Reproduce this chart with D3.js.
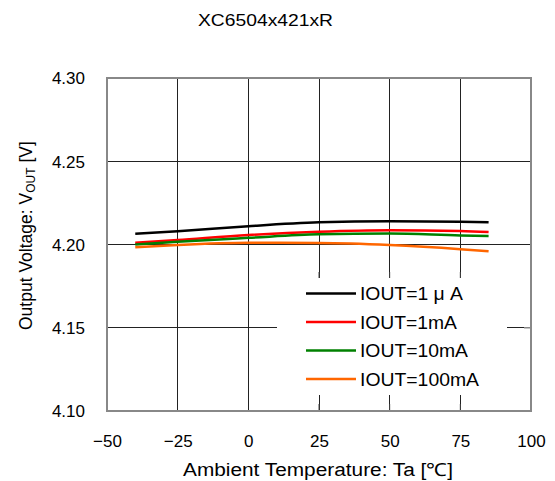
<!DOCTYPE html>
<html><head><meta charset="utf-8">
<script src="https://cdn.jsdelivr.net/npm/d3@7"></script>
<style>body{margin:0;background:#fff}svg{display:block}text{font-family:"Liberation Sans",Arial,sans-serif;fill:#000}</style>
</head><body>
<script>
const title = "XC6504x421xR";
const temps = [-40, -25, 0, 25, 50, 75, 85];
const seriesNames = ["IOUT=1 \u03bc A", "IOUT=1mA", "IOUT=10mA", "IOUT=100mA"];
const seriesColors = ["#000000", "#ff0000", "#008000", "#ff6600"];
const v1uA = [4.2065, 4.2080, 4.2110, 4.2133, 4.2140, 4.2137, 4.2133];
const v1mA = [4.2010, 4.2027, 4.2057, 4.2077, 4.2086, 4.2081, 4.2075];
const v10mA = [4.2000, 4.2017, 4.2040, 4.2061, 4.2066, 4.2054, 4.2051];
const v100mA = [4.1983, 4.1997, 4.2010, 4.2009, 4.1997, 4.1972, 4.1959];
const xTicks = [-50, -25, 0, 25, 50, 75, 100];
const yTicks = [4.10, 4.15, 4.20, 4.25, 4.30];
const allSeries = [v1uA, v1mA, v10mA, v100mA];

const W = 555, H = 481;
const L = 107, R = 531, T = 78, B = 411;
const svg = d3.select("body").append("svg").attr("width", W).attr("height", H);
const x = d3.scaleLinear().domain([-50, 100]).range([L, R]);
const y = d3.scaleLinear().domain([4.10, 4.30]).range([B, T]);

// grid
const g = svg.append("g");
g.selectAll(".vg").data(xTicks.slice(1, -1)).enter().append("line")
  .attr("x1", d => x(d)).attr("x2", d => x(d)).attr("y1", T).attr("y2", B)
  .attr("stroke", "#222").attr("stroke-width", 1).attr("shape-rendering", "crispEdges");
g.selectAll(".hg").data(yTicks.slice(1, -1)).enter().append("line")
  .attr("x1", L).attr("x2", R).attr("y1", d => y(d)).attr("y2", d => y(d))
  .attr("stroke", "#222").attr("stroke-width", 1).attr("shape-rendering", "crispEdges");

// lines
const line = d3.line().x((d, i) => x(temps[i])).y(d => y(d)).curve(d3.curveMonotoneX);
allSeries.forEach((s, k) => {
  svg.append("path").datum(s).attr("d", line).attr("fill", "none")
    .attr("stroke", seriesColors[k]).attr("stroke-width", 2.5);
});

// legend box
const lg = svg.append("g");
lg.append("rect").attr("x", 277).attr("y", 278).attr("width", 230).attr("height", 117).attr("fill", "#fff");
[25, 50, 75].forEach(t => {
  lg.append("line").attr("x1", x(t)).attr("x2", x(t)).attr("y1", 278).attr("y2", 272)
    .attr("stroke", "#444").attr("stroke-width", 1);
  lg.append("line").attr("x1", x(t)).attr("x2", x(t)).attr("y1", B).attr("y2", B - 7)
    .attr("stroke", "#444").attr("stroke-width", 1);
});
lg.append("line").attr("x1", R).attr("x2", R - 7).attr("y1", y(4.15)).attr("y2", y(4.15))
  .attr("stroke", "#888").attr("stroke-width", 1.5);
const legendW = [103, 97, 108, 119];
seriesNames.forEach((n, k) => {
  const yy = 293.5 + k * 28.5;
  lg.append("line").attr("x1", 306).attr("x2", 356).attr("y1", yy).attr("y2", yy)
    .attr("stroke", seriesColors[k]).attr("stroke-width", 2.5);
  lg.append("text").attr("x", 360).attr("y", yy + 6.5).attr("font-size", 18)
    .attr("textLength", legendW[k]).attr("lengthAdjust", "spacingAndGlyphs").text(n);
});

// frame
svg.append("rect").attr("x", L).attr("y", T).attr("width", R - L).attr("height", B - T)
  .attr("fill", "none").attr("stroke", "#888").attr("stroke-width", 2);

// axes
const xAxis = d3.axisBottom(x).tickValues(xTicks).tickSize(0).tickPadding(0)
  .tickFormat(d => d < 0 ? "\u2212" + Math.abs(d) : String(d));
const xa = svg.append("g").attr("transform", `translate(0,${B})`).call(xAxis);
xa.select(".domain").remove();
xa.selectAll("text").attr("dy", null).attr("y", 36).attr("font-size", 17).attr("font-family", "Liberation Sans, Arial, sans-serif");
const yAxis = d3.axisLeft(y).tickValues(yTicks).tickSize(0).tickPadding(0).tickFormat(d3.format(".2f"));
const ya = svg.append("g").attr("transform", `translate(${L},0)`).call(yAxis);
ya.select(".domain").remove();
ya.selectAll("text").attr("x", -22).attr("dy", "0.35em").attr("font-size", 17).attr("font-family", "Liberation Sans, Arial, sans-serif");

// titles
svg.append("text").attr("x", 198).attr("y", 26).attr("font-size", 17)
  .attr("textLength", 135).attr("lengthAdjust", "spacingAndGlyphs").text(title);
svg.append("text").attr("x", 183).attr("y", 476).attr("font-size", 18)
  .attr("textLength", 270).attr("lengthAdjust", "spacingAndGlyphs")
  .text("Ambient Temperature: Ta [\u2103]");
const yt = svg.append("text").attr("transform", "translate(32,330) rotate(-90)").attr("font-size", 17.5);
yt.append("tspan").text("Output Voltage: V");
yt.append("tspan").attr("font-size", 12).attr("dy", 3).text("OUT");
yt.append("tspan").attr("dy", -3).text(" [V]");
</script>
</body></html>
